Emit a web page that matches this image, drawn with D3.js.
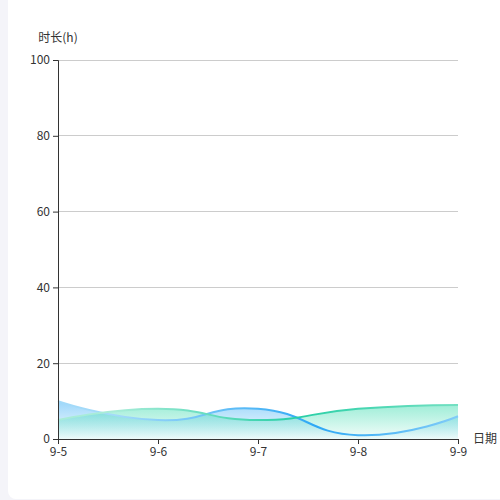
<!DOCTYPE html>
<html>
<head>
<meta charset="utf-8">
<script src="https://cdn.jsdelivr.net/npm/d3@7"></script>
<style>
  html, body { margin: 0; padding: 0; background: #f4f4f9; }
  #chart { width: 500px; height: 500px; }
  text { font-family: "Noto Sans CJK SC", "Noto Sans", sans-serif; }
</style>
</head>
<body>
<div id="chart"></div>
<script>
// datos
const dates = ['9-5', '9-6', '9-7', '9-8', '9-9']
const seriesBlue = [10, 5, 8, 1, 6]
const seriesGreen = [5, 8, 5, 8, 9]
const yTicks = [0, 20, 40, 60, 80, 100]

const width = 500, height = 500
const margin = { top: 60, right: 42, bottom: 61, left: 58 }
const innerWidth = width - margin.left - margin.right
const innerHeight = height - margin.top - margin.bottom

const root = d3.select('#chart').append('svg')
  .attr('width', width)
  .attr('height', height)

// tarjeta blanca
root.append('rect')
  .attr('x', 8).attr('y', -10)
  .attr('width', 500).attr('height', 509)
  .attr('rx', 8)
  .attr('fill', '#fff')

const defs = root.append('defs')

function areaGradient(id, top, bottom) {
  const g = defs.append('linearGradient')
    .attr('id', id)
    .attr('x1', 0).attr('y1', 0).attr('x2', 0).attr('y2', 1)
  g.append('stop').attr('offset', '0%').attr('stop-color', top[0]).attr('stop-opacity', top[1])
  g.append('stop').attr('offset', '100%').attr('stop-color', bottom[0]).attr('stop-opacity', bottom[1])
}
function lineGradient(id, stops) {
  const g = defs.append('linearGradient')
    .attr('id', id)
    .attr('gradientUnits', 'userSpaceOnUse')
    .attr('x1', margin.left).attr('y1', 0)
    .attr('x2', margin.left + innerWidth).attr('y2', 0)
  stops.forEach(([o, c]) => g.append('stop').attr('offset', o).attr('stop-color', c))
}
areaGradient('fillBlue', ['#52b8f7', 0.58], ['#5cbcf7', 0.04])
areaGradient('fillGreen', ['#3fdcb0', 0.5], ['#3fdcb0', 0.06])
lineGradient('strokeBlue', [['0%', '#a3daf9'], ['50%', '#2ea8f5'], ['100%', '#a3daf9']])
lineGradient('strokeGreen', [['0%', '#a8ecd8'], ['45%', '#28cfa6'], ['100%', '#8ee6cc']])

const svg = root.append('g')
  .attr('transform', `translate(${margin.left},${margin.top})`)

const x = d3.scalePoint()
  .domain(dates)
  .range([0, innerWidth])

const y = d3.scaleLinear()
  .domain([0, 100])
  .range([innerHeight, 0])

// rejilla
svg.append('g')
  .selectAll('line')
  .data(yTicks.filter(d => d > 0))
  .join('line')
  .attr('x1', 0).attr('x2', innerWidth)
  .attr('y1', d => y(d)).attr('y2', d => y(d))
  .attr('stroke', '#ccc')
  .attr('stroke-width', 1)
  .attr('shape-rendering', 'crispEdges')

const curve = d3.curveCardinal.tension(-0.5)

const series = [
  { values: seriesBlue, fill: 'url(#fillBlue)', stroke: 'url(#strokeBlue)' },
  { values: seriesGreen, fill: 'url(#fillGreen)', stroke: 'url(#strokeGreen)' }
]

series.forEach(s => {
  const area = d3.area()
    .x((d, i) => x(dates[i]))
    .y0(innerHeight)
    .y1(d => y(d))
    .curve(curve)
  svg.append('path')
    .datum(s.values)
    .attr('fill', s.fill)
    .attr('d', area)
})

series.forEach(s => {
  const line = d3.line()
    .x((d, i) => x(dates[i]))
    .y(d => y(d))
    .curve(curve)
  svg.append('path')
    .datum(s.values)
    .attr('fill', 'none')
    .attr('stroke', s.stroke)
    .attr('stroke-width', 2)
    .attr('d', line)
})

// ejes
const xAxis = svg.append('g')
  .attr('transform', `translate(0,${innerHeight})`)
  .call(d3.axisBottom(x).tickSize(5).tickPadding(3))
xAxis.select('.domain').attr('stroke', '#333')
xAxis.selectAll('.tick line').attr('stroke', '#333')
xAxis.selectAll('text').attr('fill', '#333').attr('font-size', 12)

const yAxis = svg.append('g')
  .call(d3.axisLeft(y).tickValues(yTicks).tickSize(5).tickPadding(3))
yAxis.select('.domain').attr('stroke', '#333')
yAxis.selectAll('.tick line').attr('stroke', '#333')
yAxis.selectAll('text').attr('fill', '#333').attr('font-size', 12)

// nombres de ejes
svg.append('text')
  .attr('x', 0).attr('y', -18)
  .attr('text-anchor', 'middle')
  .attr('font-size', 12)
  .attr('fill', '#333')
  .text('时长(h)')

svg.append('text')
  .attr('x', innerWidth + 15).attr('y', innerHeight)
  .attr('dy', '0.35em')
  .attr('font-size', 12)
  .attr('fill', '#333')
  .text('日期')
</script>
</body>
</html>
